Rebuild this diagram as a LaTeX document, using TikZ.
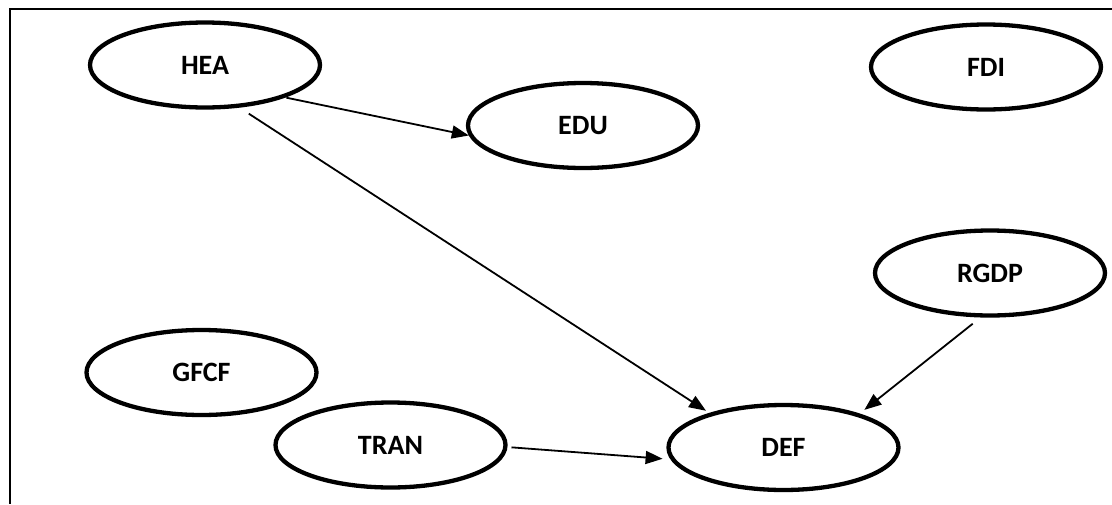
\documentclass[tikz,border=0pt]{standalone}
\usepackage{fontspec}
\setmainfont{Carlito}
\usetikzlibrary{shapes.geometric,arrows.meta}
\begin{document}
\begin{tikzpicture}[x=1pt,y=-1pt,
  var/.style={draw=black, ellipse, line width=4.3pt, minimum width=230pt, minimum height=85pt, inner sep=0pt,
    font=\fontsize{28}{30}\selectfont\bfseries},
  arr/.style={line width=1.8pt, -{Triangle[length=17pt,width=13pt]}}]
\useasboundingbox (0,0) rectangle (1112,504);
\coordinate (fr1) at (1112,9);
\coordinate (fr2) at (10,9);
\coordinate (fr3) at (10,504);
\draw[line width=2.5pt] (fr1) -- (fr2) -- (fr3);
\node[var] (HEA) at (205,65) {HEA};
\node[var] (EDU) at (583,125.5) {EDU};
\node[var] (FDI) at (986,67) {FDI};
\node[var] (RGDP) at (990,273) {RGDP};
\node[var] (GFCF) at (201.5,372.5) {GFCF};
\node[var] (TRAN) at (390.5,445) {TRAN};
\node[var] (DEF) at (783.5,447.5) {DEF};
\draw[arr, shorten <=1pt] (HEA.-22) -- (EDU.-175);
\draw[arr, shorten <=11pt, shorten >=4pt] (HEA.-51) -- (DEF.155);
\draw[arr, shorten <=10pt, shorten >=6pt] (RGDP.-102) -- (DEF.24);
\draw[arr, shorten <=4pt, shorten >=8pt] (TRAN.-1) -- (DEF.186);
\end{tikzpicture}
\end{document}
